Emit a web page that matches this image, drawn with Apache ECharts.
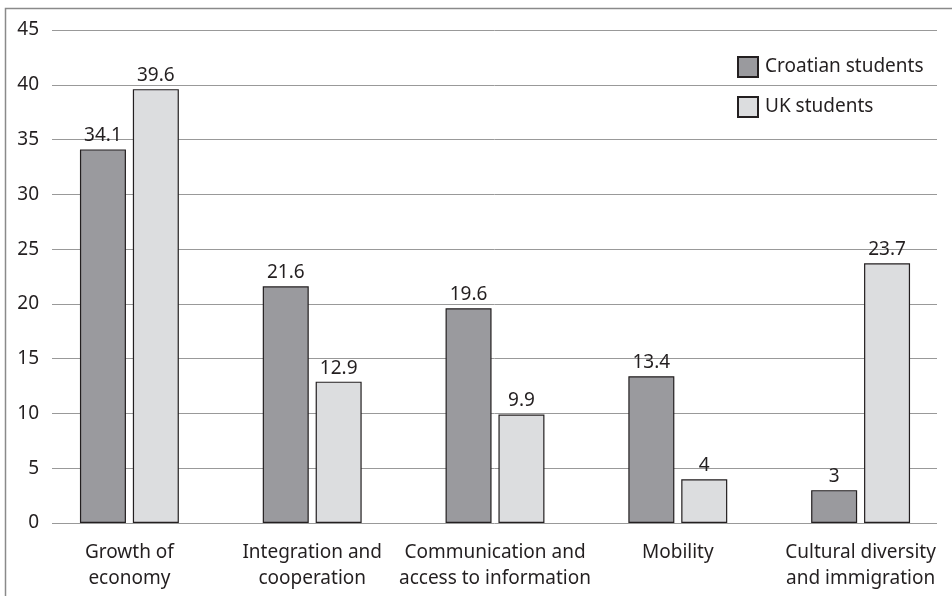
<!DOCTYPE html>
<html>
<head>
<meta charset="utf-8">
<script src="https://cdn.jsdelivr.net/npm/echarts@6/dist/echarts.min.js"></script>
<style>
html,body{margin:0;padding:0;background:#fff;}
#chart{width:952px;height:596px;}
</style>
</head>
<body>
<div id="chart"></div>
<script>
const categories = ["Growth of\neconomy", "Integration and\ncooperation", "Communication and\naccess to information", "Mobility", "Cultural diversity\nand immigration"];
const croatian = [34.1, 21.6, 19.6, 13.4, 3];
const uk = [39.6, 12.9, 9.9, 4, 23.7];
const seriesNames = ["Croatian students", "UK students"];
const yTicks = {min: 0, max: 45, interval: 5};

const chart = echarts.init(document.getElementById('chart'));
const txt = '#231f20';
const font = 'Noto Sans';
const fs = 19;
const labelCfg = {show: true, position: 'top', distance: 4, color: txt, fontSize: fs, fontFamily: font};
chart.setOption({
  animation: false,
  backgroundColor: '#fff',
  graphic: [{
    type: 'rect', shape: {x: 5.5, y: 8.5, width: 980, height: 620},
    style: {fill: 'none', stroke: '#8a8a8a', lineWidth: 1.5}, silent: true
  }],
  legend: {
    orient: 'vertical', left: 737, top: 56, padding: 0, itemWidth: 20, itemHeight: 20, itemGap: 18,
    icon: 'rect',
    textStyle: {color: txt, fontSize: fs, fontFamily: font, padding: [0, 0, 0, 2]},
    data: seriesNames
  },
  grid: [
    {left: 52, width: 885, top: 30, bottom: 73},
    {left: 38, width: 920, top: 30, bottom: 73}
  ],
  xAxis: [
    {gridIndex: 0, type: 'value', min: 0, max: 1, show: false},
    {gridIndex: 1, type: 'category', data: categories,
     axisLine: {show: false}, axisTick: {show: false},
     axisLabel: {color: txt, fontSize: fs, fontFamily: font, lineHeight: 26, margin: 17, interval: 0}}
  ],
  yAxis: [
    {gridIndex: 0, type: 'value', min: yTicks.min, max: yTicks.max, interval: yTicks.interval,
     axisLine: {show: false}, axisTick: {show: false},
     axisLabel: {color: txt, fontSize: fs, fontFamily: font, margin: 13},
     splitLine: {lineStyle: {color: '#999', width: 1}}},
    {gridIndex: 1, type: 'value', min: yTicks.min, max: yTicks.max, show: false, splitLine: {show: false}}
  ],
  series: [
    {name: seriesNames[0], type: 'bar', xAxisIndex: 1, yAxisIndex: 1, data: croatian,
     barWidth: 46, barGap: '15%',
     itemStyle: {color: '#9a9a9e', borderColor: txt, borderWidth: 1.2},
     label: labelCfg},
    {name: seriesNames[1], type: 'bar', xAxisIndex: 1, yAxisIndex: 1, data: uk,
     barWidth: 46, barGap: '15%',
     itemStyle: {color: '#dcdddf', borderColor: txt, borderWidth: 1.2},
     label: labelCfg}
  ]
});
</script>
</body>
</html>
